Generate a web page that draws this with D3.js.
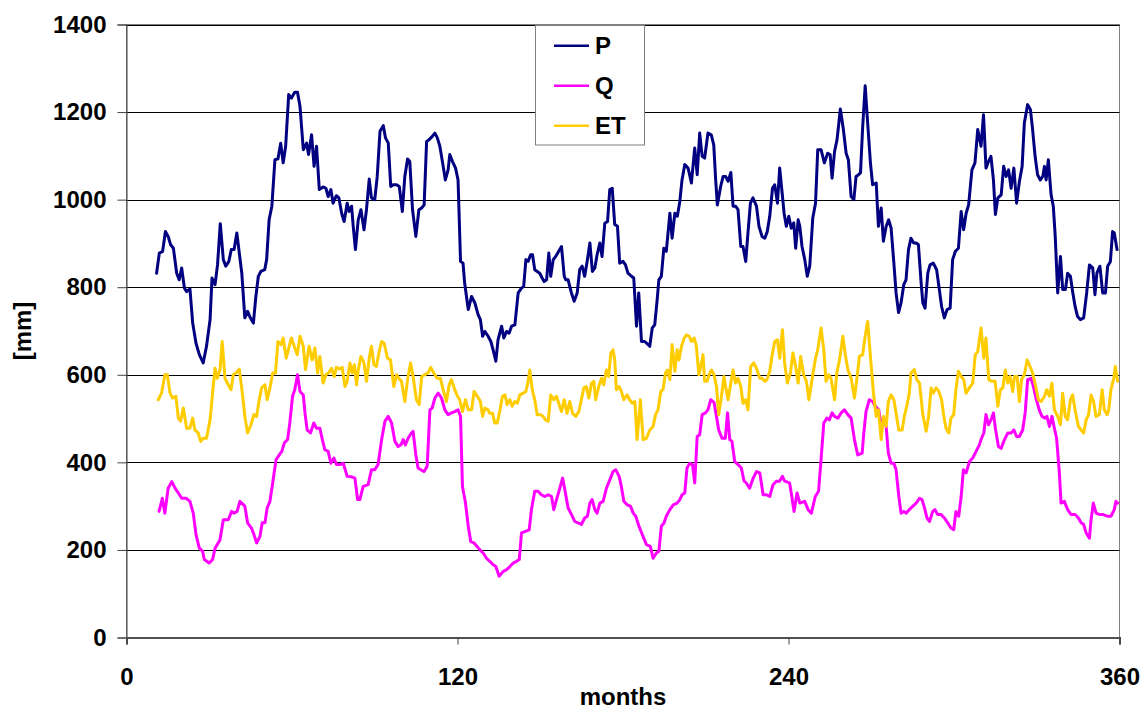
<!DOCTYPE html>
<html>
<head>
<meta charset="utf-8">
<script src="https://cdn.jsdelivr.net/npm/d3@7"></script>
<style>
  html, body { margin: 0; padding: 0; background: #fff; }
  svg { display: block; }
  text { font-family: "Liberation Sans", Arial, sans-serif; font-weight: bold; fill: #000; }
</style>
</head>
<body>
<svg id="chart" width="1144" height="711"></svg>
<script>
// ---- Data: [month, mm] ----
const P = [
[10.9,832],[11.9,878],[13.1,882],[14.1,927],[15.1,916],[16,897],[17,889],[18.2,832],[19.1,817],[20,844],[21,798],[21.8,790],[23,796],[24,718],[25.2,672],[26.4,646],[27.8,627],[29,665],[30.3,726],[31,821],[32.1,806],[33,851],[34,945],[35.1,863],[36,848],[37.1,859],[38,886],[39,886],[40,924],[40.9,878],[41.8,832],[42.9,730],[43.9,745],[44.9,730],[46,718],[46.9,779],[47.8,825],[48.7,836],[50.1,840],[50.8,863],[51.7,954],[52.7,985],[53.8,1091],[54.9,1093],[55.9,1129],[56.8,1084],[57.7,1122],[58.8,1240],[59.8,1232],[61,1245],[62,1245],[62.9,1213],[64.1,1114],[65.3,1129],[66,1103],[67.1,1148],[68,1076],[68.9,1122],[69.9,1023],
[71.3,1029],[72.3,1026],[73.1,1007],[74.1,1023],[74.9,992],[76.1,1009],[77,1004],[78,969],[78.9,950],[80,992],[80.7,973],[81.6,985],[82.2,939],[83,886],[84,954],[85,977],[86.1,931],[87,977],[88,1047],[88.8,1004],[90,1000],[90.9,1053],[91.9,1156],[93.1,1169],[93.9,1141],[94.9,1129],[95.8,1030],[96.7,1034],[97.9,1034],[98.9,1030],[100,973],[100.9,1053],[101.9,1093],[102.7,1087],[103.7,977],[104.9,916],[106,977],[107,981],[107.9,988],[108.8,1133],[109.7,1137],[110.8,1144],[111.8,1152],[112.7,1141],[113.6,1122],[114.6,1084],[115.6,1045],[116.6,1068],[117.2,1103],[118.2,1087],[119.3,1072],[120.2,1045],[121.1,859],[122,855],[122.6,809],[123.9,749],[125.1,779],[126.3,764],[127.5,737],[128.3,726],[129.1,688],[129.9,699],
[131.1,688],[132.1,676],[132.9,657],[133.9,631],[134.7,680],[136,711],[136.8,684],[137.8,699],[138.7,695],[139.6,711],[140.8,714],[142,787],[143.2,798],[144,802],[144.8,863],[145.6,859],[146.5,874],[147.2,874],[148,840],[148.9,836],[149.8,832],[150.7,821],[151.4,813],[152.3,817],[153.1,878],[153.8,825],[154.7,863],[155.6,870],[156.7,882],[157.7,893],[158.7,825],[159.3,817],[160.1,817],[161.3,787],[162.3,768],[163.4,787],[164.3,840],[165.2,848],[166.1,825],[167,859],[168,901],[168.9,836],[169.8,844],[170.6,874],[171.6,901],[172.4,870],[173.4,946],[174.4,950],[175.2,1023],[176.1,1026],[177,943],[178,939],[178.8,855],[180,859],[180.9,851],[181.8,832],[183.1,825],[183.9,821],[184.9,711],[185.7,787],[186.7,676],[187.9,676],[189.1,669],[189.7,665],
[190.6,707],[191.5,714],[192.4,772],[193,817],[193.9,825],[194.8,889],[195.7,882],[197,969],[197.8,912],[198.8,969],[199.7,962],[200.6,996],[201.4,1045],[202.4,1080],[203.6,1072],[204.8,1038],[206,1118],[206.9,1057],[207.8,1152],[208.7,1099],[209.6,1095],[210.8,1152],[212,1148],[212.9,1125],[213.6,1045],[214.2,988],[215.4,1030],[216.3,1053],[217.2,1053],[218.1,1042],[219.1,1062],[219.9,985],[220.8,985],[221.7,977],[222.7,893],[223.5,893],[224.5,859],[225.3,924],[226.2,992],[227.1,1004],[228.4,985],[229.3,939],[230.4,916],[231.4,912],[232.3,927],[233.2,962],[234.2,1026],[235,1034],[236,992],[236.8,1072],[237.7,1015],[238.4,969],[239.2,939],[240.1,962],[241,935],[241.9,947],[242.6,889],[243.5,954],[244.1,939],[244.9,893],[245.9,863],[246.8,825],[247.7,848],
[248.8,958],[249.8,992],[250.6,1114],[251.8,1114],[253,1084],[254.2,1106],[255.1,1103],[255.8,1049],[256.7,1110],[257.6,1137],[258.8,1207],[259.9,1160],[260.9,1106],[261.7,1091],[262.7,1007],[263.7,1000],[264.5,1053],[265.4,1057],[266.1,1061],[266.9,1167],[267.8,1260],[268.7,1175],[269.7,1084],[270.5,1034],[271.8,1038],[272.6,939],[273.6,981],[274.4,905],[275.4,939],[276.3,954],[277.2,935],[278.2,855],[279,787],[279.9,742],[280.8,764],[281.8,806],[282.6,817],[283.5,886],[284.4,912],[285.4,901],[286.3,901],[287.1,897],[288.1,809],[288.7,764],[289.5,752],[290.5,832],[291.3,851],[292.5,855],[293.7,840],[294.7,794],[295.5,756],[296.5,730],[297.5,749],[298.6,752],[299.5,863],[300.5,882],[301.6,889],[302.6,973],[303.5,931],[304.4,969],[305.3,988],[306.5,1068],[307.6,1084],[308.6,1160],
[309.8,1122],[310.7,1194],[311.6,1072],[312.5,1087],[313.4,1099],[314.3,1045],[315,966],[315.9,1004],[317.1,1011],[318,1076],[318.9,1053],[319.8,1068],[320.7,1026],[321.7,1072],[322.7,992],[323.7,1041],[324.7,1076],[325.5,1175],[326.7,1217],[327.7,1206],[328.5,1160],[329.4,1099],[330.3,1057],[331.3,1045],[332.2,1053],[332.8,1076],[333.4,1045],[334.2,1091],[335.2,1011],[336,985],[336.7,916],[337.6,787],[338.6,870],[339.4,795],[340.4,795],[341.2,832],[342.2,825],[343,790],[343.9,756],[344.8,733],[345.8,726],[347,730],[348.1,787],[349.1,851],[350.3,844],[351.1,783],[351.8,832],[352.9,848],[353.9,787],[354.9,787],[355.7,848],[356.7,859],[357.5,927],[358.1,924],[359.1,886]
];

const Q = [
[11.8,288],[13,318],[13.9,284],[15.1,341],[16.4,356],[17.6,341],[18.8,330],[20,318],[21.6,318],[23,311],[24.2,284],[25.2,235],[26.4,204],[27.6,197],[28.2,178],[30,170],[31.2,178],[32.1,204],[33.9,223],[35.1,269],[36.9,269],[38.1,288],[38.9,284],[40.1,288],[41.1,311],[42.9,300],[43.9,262],[45.3,250],[46.2,235],[47.2,216],[48.4,231],[49.2,262],[50.2,262],[51,296],[52,311],[53,353],[54.2,406],[55.4,417],[56.3,425],[57.2,444],[58.4,452],[59.2,490],[60.2,551],[61,566],[62,600],[62.9,562],[64.1,554],[64.7,513],[65.5,474],[66.7,467],[67.9,490],[68.9,478],[70.1,478],
[71,452],[71.9,429],[73.1,425],[74.1,398],[75.2,410],[76.1,395],[77.4,395],[78.6,398],[80,368],[81.6,367],[82.8,364],[83.8,315],[84.6,315],[85.8,345],[87.6,349],[88.8,383],[90,383],[91.2,395],[92.5,452],[93.7,494],[94.9,505],[96.1,490],[97.3,448],[98.5,436],[99.5,440],[100.3,452],[101.1,440],[102.1,455],[103.3,467],[103.9,471],[104.9,417],[105.7,387],[107,382],[107.9,379],[109,391],[110,520],[110.8,524],[111.8,547],[113,558],[114.2,547],[115.4,520],[116.6,509],[117.8,513],[119,516],[120.2,520],[121.1,505],[121.8,345],[122.9,307],[123.9,254],[124.8,219],[126,216],[127.1,208],[128.3,199],
[129.3,193],[130.5,181],[131.7,174],[132.9,166],[133.9,162],[135.1,140],[136.6,151],[137.8,155],[139,162],[140.2,170],[141.4,174],[142.4,178],[143.2,239],[144.4,242],[146,246],[146.8,292],[148,334],[149.2,334],[150.4,326],[151.6,322],[152.9,326],[154.1,322],[154.9,292],[155.9,315],[157.1,341],[158.1,364],[158.9,338],[160.1,296],[161.3,281],[162.5,265],[163.7,262],[164.9,258],[166.1,273],[167.1,277],[168,307],[168.8,315],[169.8,292],[170.6,284],[171.6,307],[172.8,311],[174,341],[175.2,360],[176.4,379],[177.4,383],[178.6,368],[179.4,345],[180.3,311],[181.5,303],[182.7,300],[183.7,284],[184.6,277],[185.8,254],[187,235],[188.5,212],
[189.9,208],[190.9,181],[192.1,193],[193,197],[193.9,254],[194.9,262],[195.7,277],[197,292],[198.2,303],[199.6,307],[200.6,315],[201.4,326],[202.4,330],[203.2,387],[204.2,398],[205.2,395],[206,353],[206.9,459],[207.8,463],[208.7,509],[209.9,513],[210.8,520],[211.8,543],[213,537],[213.9,505],[214.7,474],[215.9,455],[217.1,455],[217.9,513],[218.7,452],[219.5,448],[220.5,402],[221.7,395],[222.9,387],[223.9,357],[224.7,353],[225.9,341],[227.2,364],[228.4,379],[229.6,376],[230.8,326],[232,326],[233.2,322],[234.4,349],[235.6,357],[236.8,357],[237.8,368],[238.6,357],[240.4,353],[241,330],[242,288],[243.1,330],[244.1,307],[245.9,311],[247.1,292],[248.3,284],
[249.7,322],[250.9,334],[251.8,406],[252.8,490],[253.9,501],[254.8,497],[255.8,513],[256.7,505],[257.9,501],[259.1,513],[260.3,520],[261.5,509],[262.7,501],[263.9,452],[265.1,417],[266.7,421],[267.3,467],[268.1,516],[269.3,543],[270.5,539],[271.5,528],[272.7,520],[273.6,482],[274.4,501],[275.4,482],[276.2,421],[277.2,398],[278.2,398],[279,383],[280,322],[280.8,284],[281.8,288],[282.6,284],[283.8,292],[285.1,300],[286.3,307],[287.5,318],[288.4,315],[289.3,296],[290.2,273],[291.1,265],[292.3,288],[293.1,292],[294.1,281],[295.3,281],[296.5,273],[297.7,262],[298.9,250],[299.9,246],[300.7,288],[301.7,277],[302.6,322],[303.4,383],[304.4,376],[305.6,402],[306.8,410],[308,425],[309.2,440],
[309.8,452],[310.8,467],[311.6,509],[312.5,486],[313.4,497],[314.3,513],[315,478],[316.1,436],[317.1,432],[318.3,452],[319.5,467],[320.7,467],[321.7,474],[322.7,459],[323.7,459],[324.9,474],[325.8,513],[326.7,589],[327.9,592],[328.8,573],[329.7,547],[330.9,520],[331.9,505],[333,501],[333.7,505],[334.6,482],[335.5,505],[336.4,478],[337.2,455],[338.2,376],[338.8,307],[340,311],[341.2,292],[342.4,281],[343.9,281],[345.1,273],[346.1,262],[347,258],[347.9,239],[349.1,227],[349.7,269],[350.5,307],[351.5,284],[352.7,281],[353.9,281],[355.5,277],[356.9,277],[358.1,292],[358.7,311],[359.3,307]
];

const ET = [
[11.5,543],[12.7,558],[13.9,600],[14.8,600],[15.8,558],[16.7,547],[17.9,551],[18.8,501],[19.6,494],[20.6,524],[21.8,478],[23,478],[24,501],[24.8,474],[26,467],[26.9,448],[27.8,455],[29,455],[30.3,497],[31.2,558],[32.1,615],[32.9,592],[33.9,612],[34.7,676],[35.7,592],[36.9,577],[37.9,566],[38.7,600],[39.7,604],[40.9,613],[42,558],[42.9,505],[43.9,467],[45.1,486],[46.2,509],[47.2,505],[48.1,543],[49,570],[50.2,577],[51,543],[52,570],[53,604],[54,604],[54.9,676],[56,669],[56.8,684],[57.9,638],[59,665],[59.8,684],[60.8,665],[61.9,646],[62.9,688],[64.1,665],[64.9,612],[66.2,665],[67.3,634],[68.3,661],[69.3,604],[70.1,642],
[71.3,581],[72.3,600],[73.4,605],[74.3,615],[75.3,596],[76.1,617],[77.4,613],[78.2,617],[79.2,573],[80,585],[81,627],[81.8,604],[82.6,623],[83.4,577],[84,611],[85,642],[86.1,627],[87,585],[88,638],[88.8,665],[89.7,623],[90.6,619],[91.6,653],[92.5,676],[93.4,672],[94.6,638],[95.7,634],[96.9,573],[97.9,600],[98.7,592],[99.7,585],[100.9,539],[101.9,589],[103,627],[103.9,596],[105.1,543],[106.1,532],[107,596],[108.2,600],[109.4,605],[110.3,617],[111.4,604],[112.6,592],[113.8,592],[114.8,566],[116,539],[117,577],[117.8,589],[119,566],[120,551],[120.8,543],[121.8,516],[122.9,543],[123.9,520],[125.1,520],[126,562],[127.2,551],[128.3,539],
[129.1,505],[129.9,524],[131.1,520],[131.7,512],[132.7,512],[133.5,490],[134.4,490],[135.3,516],[136.3,551],[137.2,554],[138,532],[139,543],[139.8,528],[140.8,539],[141.7,535],[142.6,554],[143.8,558],[144.8,562],[145.6,585],[146.2,611],[147.1,566],[148,543],[148.9,509],[150.2,509],[151,505],[151.9,497],[152.9,494],[153.8,554],[154.9,543],[155.9,551],[156.7,535],[157.7,516],[158.7,543],[159.7,512],[160.7,539],[161.7,512],[162.9,505],[164,516],[164.9,543],[165.8,570],[166.7,573],[167.6,547],[168.6,581],[169.4,585],[170.1,543],[171.2,573],[172.2,592],[173,577],[174,611],[174.8,596],[175.6,650],[176.4,657],[177,634],[177.6,566],[178.6,573],[179.4,562],[180.3,543],[181.5,554],[182.4,543],[183.4,535],[184.3,539],[185.1,452],[186.3,543],[187.3,452],[188.5,455],
[189.7,474],[190.9,482],[191.8,509],[192.7,520],[193.7,562],[194.5,566],[195.4,604],[196.1,611],[197,589],[197.8,669],[198.8,608],[199.6,657],[200.3,634],[201.2,665],[202.2,684],[203,691],[204,688],[204.8,676],[205.8,684],[206.6,665],[207.5,600],[208.2,619],[209,646],[209.6,585],[210.5,585],[211.2,600],[212.1,611],[213,600],[213.9,573],[214.7,509],[215.7,551],[216.6,596],[217.2,573],[218.1,543],[219.1,581],[219.9,611],[220.8,581],[221.7,592],[222.7,573],[223.5,535],[224.5,543],[225.3,520],[226.3,619],[227.4,627],[228.4,615],[229.6,592],[230.4,592],[231.4,585],[232.2,589],[233.2,608],[234,642],[235,676],[236,680],[236.8,638],[237.8,703],[238.6,627],[239.6,581],[240.7,604],[241.6,650],[242.6,619],[243.5,581],[244.4,642],[245.5,600],[246.5,585],[247.4,543],
[248.8,600],[249.8,638],[250.6,657],[251.8,707],[252.8,657],[253.6,585],[254.6,600],[255.4,592],[256.7,543],[257.5,604],[258.5,634],[259.7,688],[260.5,650],[261.5,612],[262.7,592],[263.9,547],[264.9,596],[265.7,642],[266.9,646],[267.8,688],[268.7,722],[269.7,642],[270.8,558],[271.8,505],[272.6,520],[273.6,452],[274.4,505],[275.4,482],[276.2,539],[277.2,554],[278.2,543],[279,512],[280,474],[281.2,474],[282,505],[283,532],[283.8,558],[284.4,604],[285.6,612],[286.5,589],[287.5,581],[288.7,509],[289.9,471],[290.8,505],[291.7,570],[292.5,558],[293.5,570],[294.5,562],[295.5,543],[296.3,505],[297.1,478],[298.1,467],[298.9,501],[299.9,509],[300.7,566],[301.6,608],[302.6,596],[303.5,589],[304.4,558],[305.6,570],[306.8,581],[307.7,646],[308.6,653],
[309.8,707],[310.8,638],[311.6,684],[312.6,589],[313.7,585],[314.9,585],[315.9,528],[316.8,566],[317.7,570],[318.6,611],[319.5,581],[320.3,596],[321.3,562],[321.9,596],[322.9,596],[323.7,539],[324.5,589],[325.5,600],[326.5,634],[327.3,623],[328.5,604],[329.5,577],[330.6,543],[331.6,539],[332.8,551],[333.6,566],[334.6,551],[335.5,581],[336.4,520],[337.6,505],[338.6,486],[339.4,558],[340.3,505],[341.2,497],[342.2,543],[343,554],[344,516],[345.1,482],[346.1,474],[347,467],[347.9,497],[348.8,509],[349.7,554],[350.6,539],[351.5,505],[352.7,509],[353.7,566],[354.5,520],[355.5,509],[356.1,520],[356.9,566],[357.9,592],[358.5,619],[359.3,585]
];

const seriesNames = ["P", "Q", "ET"];
const seriesColors = ["#000080", "#FF00FF", "#FFCC00"];
const seriesData = [P, Q, ET];
const xTicks = [0, 120, 240, 360];
const yTicks = [0, 200, 400, 600, 800, 1000, 1200, 1400];
const xLabel = "months";
const yLabel = "[mm]";

(function () {
  const svg = d3.select("#chart");
  const L = 126.5, R = 1119.5, T = 24.5, B = 637.5;
  const FONT = '"Liberation Sans", Arial, sans-serif';

  const x = d3.scaleLinear().domain([0, 360]).range([L, R]);
  const y = d3.scaleLinear().domain([0, 1400]).range([B, T]);

  svg.append("rect").attr("width", 1144).attr("height", 711).attr("fill", "#fff");

  // plot area border
  svg.append("rect")
    .attr("x", L).attr("y", T)
    .attr("width", R - L).attr("height", B - T)
    .attr("fill", "none").attr("stroke", "#808080").attr("stroke-width", 1);

  // gridlines
  svg.append("g").selectAll("line")
    .data(yTicks.filter(d => d > 0))
    .join("line")
    .attr("x1", L).attr("x2", R)
    .attr("y1", d => Math.round(y(d)) + 0.5).attr("y2", d => Math.round(y(d)) + 0.5)
    .attr("stroke", "#000").attr("stroke-width", 1);

  // Y axis
  const yAxis = d3.axisLeft(y).tickValues(yTicks).tickSize(9).tickPadding(11).tickFormat(d3.format("d"));
  const gy = svg.append("g").attr("transform", `translate(${L},0)`).call(yAxis);
  gy.select(".domain").attr("stroke", "#404040");
  gy.selectAll(".tick line").attr("stroke", "#404040");
  gy.selectAll(".tick text").attr("font-size", 24).attr("font-family", FONT)
    .attr("font-weight", "bold").attr("fill", "#000");

  // X axis
  const xAxis = d3.axisBottom(x).tickValues(xTicks).tickSize(7).tickPadding(24).tickFormat(d3.format("d"));
  const gx = svg.append("g").attr("transform", `translate(0,${B})`).call(xAxis);
  gx.select(".domain").attr("stroke", "#505050").attr("stroke-width", 2);
  gx.selectAll(".tick line").attr("stroke", "#404040");
  gx.selectAll(".tick text").attr("font-size", 24).attr("font-family", FONT)
    .attr("font-weight", "bold").attr("fill", "#000").attr("dy", "0").attr("y", 47.5);

  // axis titles
  svg.append("text").attr("x", (L + R) / 2).attr("y", 705)
    .attr("text-anchor", "middle").attr("font-size", 24).text(xLabel);
  svg.append("text").attr("transform", "translate(31,331) rotate(-90)")
    .attr("text-anchor", "middle").attr("font-size", 24).text(yLabel);

  // series lines
  const line = d3.line().x(d => x(d[0])).y(d => y(d[1]));
  const plot = svg.append("g");
  seriesData.forEach((data, i) => {
    plot.append("path").datum(data)
      .attr("d", line)
      .attr("fill", "none")
      .attr("stroke", seriesColors[i])
      .attr("stroke-width", 3)
      .attr("stroke-linejoin", "round")
      .attr("stroke-linecap", "round");
  });

  // legend
  const lg = svg.append("g");
  lg.append("rect").attr("x", 535.5).attr("y", 25.5).attr("width", 109).attr("height", 119.5)
    .attr("fill", "#fff").attr("stroke", "#808080").attr("stroke-width", 1);
  seriesNames.forEach((name, i) => {
    const cy = 45.7 + i * 40;
    lg.append("line").attr("x1", 554).attr("x2", 589).attr("y1", cy).attr("y2", cy)
      .attr("stroke", seriesColors[i]).attr("stroke-width", 2.5);
    lg.append("text").attr("x", 595).attr("y", cy + 8.5).attr("font-size", 24).text(name);
  });
})();
</script>
</body>
</html>
